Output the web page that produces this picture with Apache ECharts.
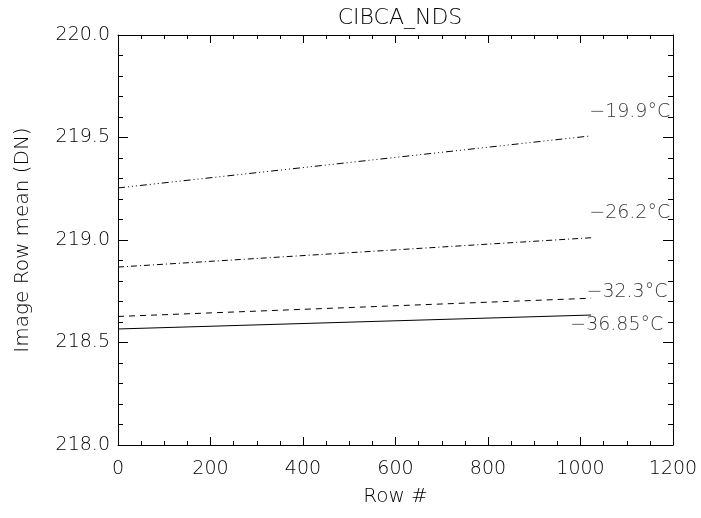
<!DOCTYPE html>
<html>
<head>
<meta charset="utf-8">
<script src="https://cdn.jsdelivr.net/npm/echarts@6/dist/echarts.min.js"></script>
<style>
  html, body { margin: 0; padding: 0; background: #fff; }
  #chart { width: 701px; height: 518px; }
</style>
</head>
<body>
<div id="chart"></div>
<script>
// Row positions sampled along the detector
var rows = [0, 1023];

// Mean DN per row at each detector temperature
var t199 = [219.254, 219.508];
var t262 = [218.868, 219.011];
var t323 = [218.627, 218.716];
var t3685 = [218.566, 218.634];

// Temperature annotations (text, anchor row, anchor DN)
var tempLabels = ['\u221219.9\u00b0C', '\u221226.2\u00b0C', '\u221232.3\u00b0C', '\u221236.85\u00b0C'];
var tempLabelX = [1194, 1194, 1188, 1179];
var tempLabelY = [219.624, 219.132, 218.748, 218.585];

var xTicks = { min: 0, max: 1200, interval: 200 };
var yTicks = { min: 218.0, max: 220.0, interval: 0.5 };

var FONT = 'DejaVu Sans';
var INK = '#000';

function pairs(ys) {
  return rows.map(function (r, i) { return [r, ys[i]]; });
}

function xAxisDef(pos, labels) {
  return {
    type: 'value', position: pos,
    min: xTicks.min, max: xTicks.max, interval: xTicks.interval,
    axisLine: { show: true, onZero: false, lineStyle: { color: '#000', width: 1 } },
    axisTick: { show: true, inside: true, length: 8, lineStyle: { color: '#000' } },
    minorTick: { show: true, splitNumber: 4, length: 4, lineStyle: { color: '#000' } },
    splitLine: { show: false },
    axisLabel: {
      show: labels, margin: 15, color: INK, fontFamily: FONT, fontSize: 19, fontWeight: 300,
      formatter: function (v) { return String(v); }
    },
    name: labels ? 'Row #' : '', nameLocation: 'middle', nameGap: 42,
    nameTextStyle: { color: INK, fontFamily: FONT, fontSize: 20, fontWeight: 300 }
  };
}

function yAxisDef(pos, labels) {
  return {
    type: 'value', position: pos,
    min: yTicks.min, max: yTicks.max, interval: yTicks.interval,
    axisLine: { show: true, onZero: false, lineStyle: { color: '#000', width: 1 } },
    axisTick: { show: true, inside: true, length: 10, lineStyle: { color: '#000' } },
    minorTick: { show: true, splitNumber: 5, length: 5, lineStyle: { color: '#000' } },
    splitLine: { show: false },
    axisLabel: {
      show: labels, margin: 8, color: INK, fontFamily: FONT, fontSize: 19, fontWeight: 300,
      formatter: function (v) { return v.toFixed(1); }
    },
    name: labels ? 'Image Row mean (DN)' : '', nameLocation: 'middle', nameGap: 85,
    nameTextStyle: { color: INK, fontFamily: FONT, fontSize: 20, fontWeight: 300 }
  };
}

function lineSeries(ys, dash) {
  return {
    type: 'line', xAxisIndex: 0, yAxisIndex: 0,
    data: pairs(ys), showSymbol: false, symbol: 'none', silent: true,
    lineStyle: { color: '#000', width: 1, type: dash }
  };
}

var chart = echarts.init(document.getElementById('chart'), null, { renderer: 'canvas' });
chart.setOption({
  animation: false,
  backgroundColor: '#fff',
  title: {
    text: 'CIBCA_NDS', left: 395, top: 2, textAlign: 'center',
    textStyle: { color: INK, fontFamily: FONT, fontSize: 22, fontWeight: 300 }
  },
  grid: { left: 118, right: 28, top: 35, bottom: 73 },
  xAxis: [xAxisDef('bottom', true), xAxisDef('top', false)],
  yAxis: [yAxisDef('left', true), yAxisDef('right', false)],
  series: [
    lineSeries(t199, [7, 3, 1, 3, 1, 3, 1, 3]),
    lineSeries(t262, [6, 3, 1, 3]),
    lineSeries(t323, [6, 5]),
    lineSeries(t3685, 'solid'),
    {
      type: 'scatter', xAxisIndex: 0, yAxisIndex: 0, silent: true,
      symbolSize: 0,
      data: tempLabels.map(function (t, i) { return { value: [tempLabelX[i], tempLabelY[i]], name: t }; }),
      label: {
        show: true, position: 'inside', align: 'right', verticalAlign: 'middle',
        formatter: function (p) { return p.name; },
        color: INK, fontFamily: FONT, fontSize: 19, fontWeight: 300
      }
    }
  ]
});
</script>
</body>
</html>
